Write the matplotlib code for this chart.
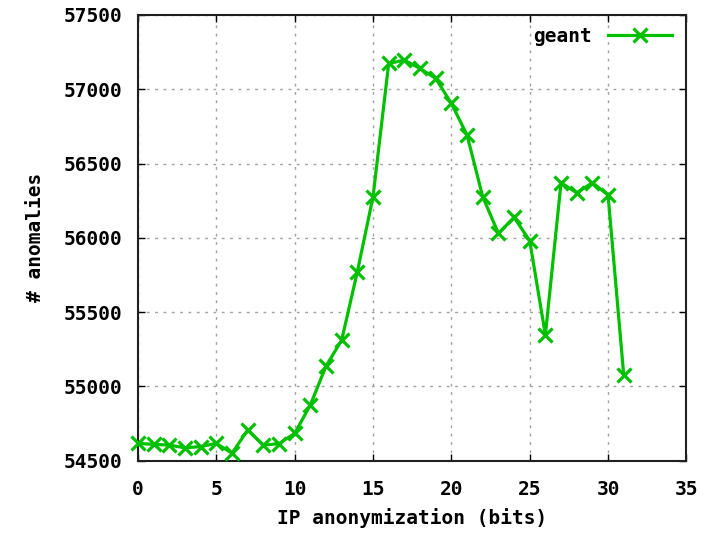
import matplotlib
matplotlib.use("Agg")
import matplotlib.pyplot as plt

bits = list(range(0, 32))
anomalies = [54617, 54610, 54605, 54587, 54595, 54617, 54550, 54707, 54605, 54615,
             54684, 54875, 55137, 55312, 55772, 56277, 57174, 57196, 57140, 57073,
             56905, 56692, 56277, 56030, 56138, 55981, 55346, 56371, 56303, 56371,
             56288, 55077]
xticks = [0, 5, 10, 15, 20, 25, 30, 35]
yticks = [54500, 55000, 55500, 56000, 56500, 57000, 57500]

plt.rcParams['font.family'] = ['DejaVu Sans Mono']
plt.rcParams['font.weight'] = 'bold'

fig = plt.figure(figsize=(7.21, 5.33), dpi=100)
ax = fig.add_axes([0.1914, 0.1356, 0.7606, 0.8363])

green = '#00c000'
ax.plot(bits, anomalies, color=green, lw=2.3, marker='x', ms=9.5, mew=2.3,
        label='geant', clip_on=False, zorder=3)

ax.set_xlim(0, 35)
ax.set_ylim(54500, 57500)
ax.set_xticks(xticks)
ax.set_yticks(yticks)
ax.tick_params(direction='in', length=5, width=1, top=True, right=True,
               labelsize=14)
ax.tick_params(axis='x', pad=14)
ax.tick_params(axis='y', pad=11)
for lab in ax.get_xticklabels() + ax.get_yticklabels():
    lab.set_fontweight('bold')

ax.grid(True, color='#a0a0a0', linestyle=(0, (2, 4)), linewidth=1)
for s in ax.spines.values():
    s.set_linewidth(1.5)
    s.set_color('#202020')

ax.set_xlabel('IP anonymization (bits)', fontsize=14, fontweight='bold', labelpad=6)
ax.set_ylabel('# anomalies', fontsize=14, fontweight='bold', labelpad=14)

leg = ax.legend(loc='upper right', frameon=False, markerfirst=False,
                handlelength=3.3, fontsize=14, borderaxespad=0.2,
                bbox_to_anchor=(0.995, 1.0))
for t in leg.get_texts():
    t.set_fontweight('bold')

fig.savefig('out.png', dpi=100)
